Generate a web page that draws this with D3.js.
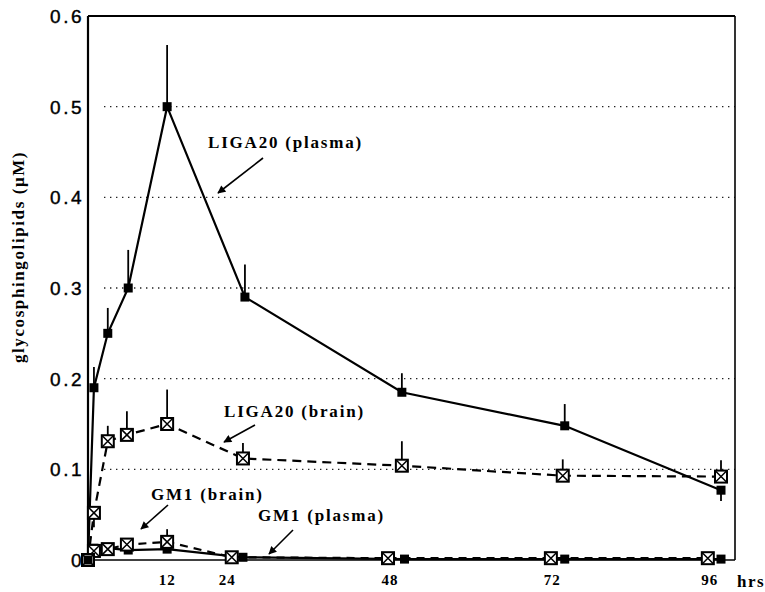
<!DOCTYPE html>
<html>
<head>
<meta charset="utf-8">
<script src="https://cdn.jsdelivr.net/npm/d3@7/dist/d3.min.js"></script>
<style>
  body { margin: 0; background: #fff; }
  svg { display: block; }
</style>
</head>
<body>
<div id="chart"></div>
<script>
// ── data (hours, glycosphingolipids µM) ──
const ligaPlasmaHrs   = [0, 0.9, 3.0, 6.1, 12, 23.8, 47.6, 72.3, 96];
const ligaPlasmaVal   = [0, 0.19, 0.25, 0.30, 0.50, 0.29, 0.185, 0.148, 0.077];
const ligaPlasmaErrUp = [0, 0.023, 0.028, 0.042, 0.068, 0.036, 0.021, 0.024, 0];
const ligaPlasmaErrDn = [0, 0, 0, 0, 0, 0, 0, 0, 0.012];

const ligaBrainHrs   = [0, 0.9, 3.0, 5.9, 12, 23.5, 47.6, 72.0, 96];
const ligaBrainVal   = [0, 0.052, 0.131, 0.138, 0.150, 0.112, 0.104, 0.093, 0.092];
const ligaBrainErrUp = [0, 0, 0.017, 0.026, 0.038, 0.017, 0.027, 0.018, 0.018];
const ligaBrainErrDn = [0, 0.016, 0, 0, 0, 0, 0, 0, 0];

const gm1PlasmaHrs = [0, 0.9, 3.0, 6.1, 12, 23.5, 48, 72.3, 96];
const gm1PlasmaVal = [0, 0.013, 0.013, 0.011, 0.012, 0.003, 0.001, 0.001, 0.001];

const gm1BrainHrs   = [0, 0.9, 3.0, 5.9, 12, 21.8, 45.5, 70.2, 94];
const gm1BrainVal   = [0, 0.010, 0.012, 0.017, 0.020, 0.003, 0.002, 0.002, 0.002];
const gm1BrainErrUp = [0, 0, 0, 0, 0.014, 0, 0, 0, 0];

const yTicks = [0, 0.1, 0.2, 0.3, 0.4, 0.5, 0.6];
const xTickLabels = ['12', '24', '48', '72', '96'];
const xTickHrs    = [12, 21.1, 45.8, 70.4, 94.3];   // where the printed labels sit
const noteLabels  = ['LIGA20 (plasma)', 'LIGA20 (brain)', 'GM1 (brain)', 'GM1 (plasma)'];

// ── layout ──
const W = 765, H = 592;
const M = { left: 88, right: 735, top: 16, bottom: 560 };

const svg = d3.select('#chart').append('svg').attr('width', W).attr('height', H);

const x = d3.scaleLinear().domain([0, 96]).range([M.left, 721]);
const y = d3.scaleLinear().domain([0, 0.6]).range([M.bottom, M.top]);

const zip = (hrs, val, up, dn) => hrs.map((h, i) => ({
  h, v: val[i], up: up ? up[i] : 0, dn: dn ? dn[i] : 0
}));

const ligaPlasma = zip(ligaPlasmaHrs, ligaPlasmaVal, ligaPlasmaErrUp, ligaPlasmaErrDn);
const ligaBrain  = zip(ligaBrainHrs, ligaBrainVal, ligaBrainErrUp, ligaBrainErrDn);
const gm1Plasma  = zip(gm1PlasmaHrs, gm1PlasmaVal);
const gm1Brain   = zip(gm1BrainHrs, gm1BrainVal, gm1BrainErrUp);

// arrowhead
svg.append('defs').append('marker')
  .attr('id', 'arrow')
  .attr('viewBox', '0 0 10 10')
  .attr('refX', 9).attr('refY', 5)
  .attr('markerWidth', 10).attr('markerHeight', 8)
  .attr('markerUnits', 'userSpaceOnUse')
  .attr('orient', 'auto')
  .append('path').attr('d', 'M0,0 L10,5 L0,10 z').attr('fill', '#000');

// dotted grid
svg.append('g').selectAll('line')
  .data(yTicks.filter(t => t > 0 && t < 0.6))
  .enter().append('line')
  .attr('x1', 104).attr('x2', M.right)
  .attr('y1', d => y(d)).attr('y2', d => y(d))
  .attr('stroke', '#222').attr('stroke-width', 1.3)
  .attr('stroke-dasharray', '1.4,4.6');

// frame
const frame = svg.append('g').attr('stroke', '#000').attr('fill', 'none');
frame.append('line').attr('x1', M.left).attr('x2', M.left).attr('y1', M.top).attr('y2', M.bottom).attr('stroke-width', 2.2);
frame.append('line').attr('x1', M.left).attr('x2', M.right).attr('y1', M.top).attr('y2', M.top).attr('stroke-width', 1.8);
frame.append('line').attr('x1', M.right).attr('x2', M.right).attr('y1', M.top).attr('y2', M.bottom).attr('stroke-width', 1.6);
frame.append('line').attr('x1', M.left).attr('x2', M.right).attr('y1', M.bottom).attr('y2', M.bottom).attr('stroke-width', 1.6);

// y tick labels
svg.append('g').selectAll('text')
  .data(yTicks).enter().append('text')
  .attr('x', 84).attr('y', d => y(d)).attr('dy', '0.36em')
  .attr('text-anchor', 'end')
  .style('font-family', '"Liberation Sans", Arial, sans-serif')
  .style('font-size', '19px')
  .style('letter-spacing', '2.5px')
  .style('stroke', '#000').style('stroke-width', 0.4)
  .text(d => d === 0 ? '0' : d3.format('.1f')(d));

// x tick labels
svg.append('g').selectAll('text')
  .data(xTickLabels).enter().append('text')
  .attr('x', (d, i) => x(xTickHrs[i])).attr('y', 585)
  .attr('text-anchor', 'middle')
  .style('font-family', '"Liberation Serif", "Times New Roman", serif')
  .style('font-weight', 'bold').style('font-size', '15px')
  .style('letter-spacing', '1px')
  .text(d => d);

svg.append('text')
  .attr('x', 737).attr('y', 587)
  .style('font-family', '"Liberation Serif", "Times New Roman", serif')
  .style('font-weight', 'bold').style('font-size', '17px')
  .style('letter-spacing', '1.5px')
  .text('hrs');

// y axis title
svg.append('text')
  .attr('transform', 'translate(24,257) rotate(-90)')
  .attr('text-anchor', 'middle')
  .style('font-family', '"Liberation Serif", "Times New Roman", serif')
  .style('font-weight', 'bold').style('font-size', '17px')
  .style('letter-spacing', '1.6px')
  .text('glycosphingolipids (\u03bcM)');

// lines
const line = d3.line().x(d => x(d.h)).y(d => y(d.v));
const series = [
  { data: gm1Plasma,  dash: null,  marker: 'filled' },
  { data: gm1Brain,   dash: '8,6', marker: 'crossed' },
  { data: ligaBrain,  dash: '9,6', marker: 'crossed' },
  { data: ligaPlasma, dash: null,  marker: 'filled' }
];

series.forEach(s => {
  svg.append('path')
    .datum(s.data)
    .attr('d', line)
    .attr('fill', 'none')
    .attr('stroke', '#000')
    .attr('stroke-width', 2.2)
    .attr('stroke-dasharray', s.dash);
});

// error bars
series.forEach(s => {
  svg.append('g').selectAll('line')
    .data(s.data.filter(d => d.up > 0 || d.dn > 0))
    .enter().append('line')
    .attr('x1', d => x(d.h)).attr('x2', d => x(d.h))
    .attr('y1', d => y(d.v + d.up)).attr('y2', d => y(d.v - d.dn))
    .attr('stroke', '#000').attr('stroke-width', 1.8);
});

// markers
series.forEach(s => {
  const g = svg.append('g').selectAll('g')
    .data(s.data).enter().append('g')
    .attr('transform', d => `translate(${x(d.h)},${y(d.v)})`);
  if (s.marker === 'filled') {
    g.append('rect').attr('x', -4.5).attr('y', -4.5).attr('width', 9).attr('height', 9).attr('fill', '#000');
  } else {
    const r = 6;
    g.append('rect').attr('x', -r).attr('y', -r).attr('width', 2 * r).attr('height', 2 * r)
      .attr('fill', '#fff').attr('stroke', '#000').attr('stroke-width', 2);
    g.append('path').attr('d', `M${-r},${-r}L${r},${r}M${r},${-r}L${-r},${r}`)
      .attr('stroke', '#000').attr('stroke-width', 1.5);
  }
});

// annotations: label position and arrow (pixels)
const notes = [
  { tx: 208, ty: 148, ax1: 263, ay1: 158, ax2: 218, ay2: 193 },
  { tx: 224, ty: 417, ax1: 255, ay1: 425, ax2: 224, ay2: 442 },
  { tx: 151, ty: 500, ax1: 168, ay1: 505, ax2: 141, ay2: 529 },
  { tx: 258, ty: 521, ax1: 293, ay1: 530, ax2: 269, ay2: 554 }
];
notes.forEach((n, i) => {
  svg.append('text')
    .attr('x', n.tx).attr('y', n.ty)
    .style('font-family', '"Liberation Serif", "Times New Roman", serif')
    .style('font-weight', 'bold').style('font-size', '17px')
    .style('letter-spacing', '1.8px')
    .text(noteLabels[i]);
  svg.append('line')
    .attr('x1', n.ax1).attr('y1', n.ay1).attr('x2', n.ax2).attr('y2', n.ay2)
    .attr('stroke', '#000').attr('stroke-width', 1.6)
    .attr('marker-end', 'url(#arrow)');
});
</script>
</body>
</html>
